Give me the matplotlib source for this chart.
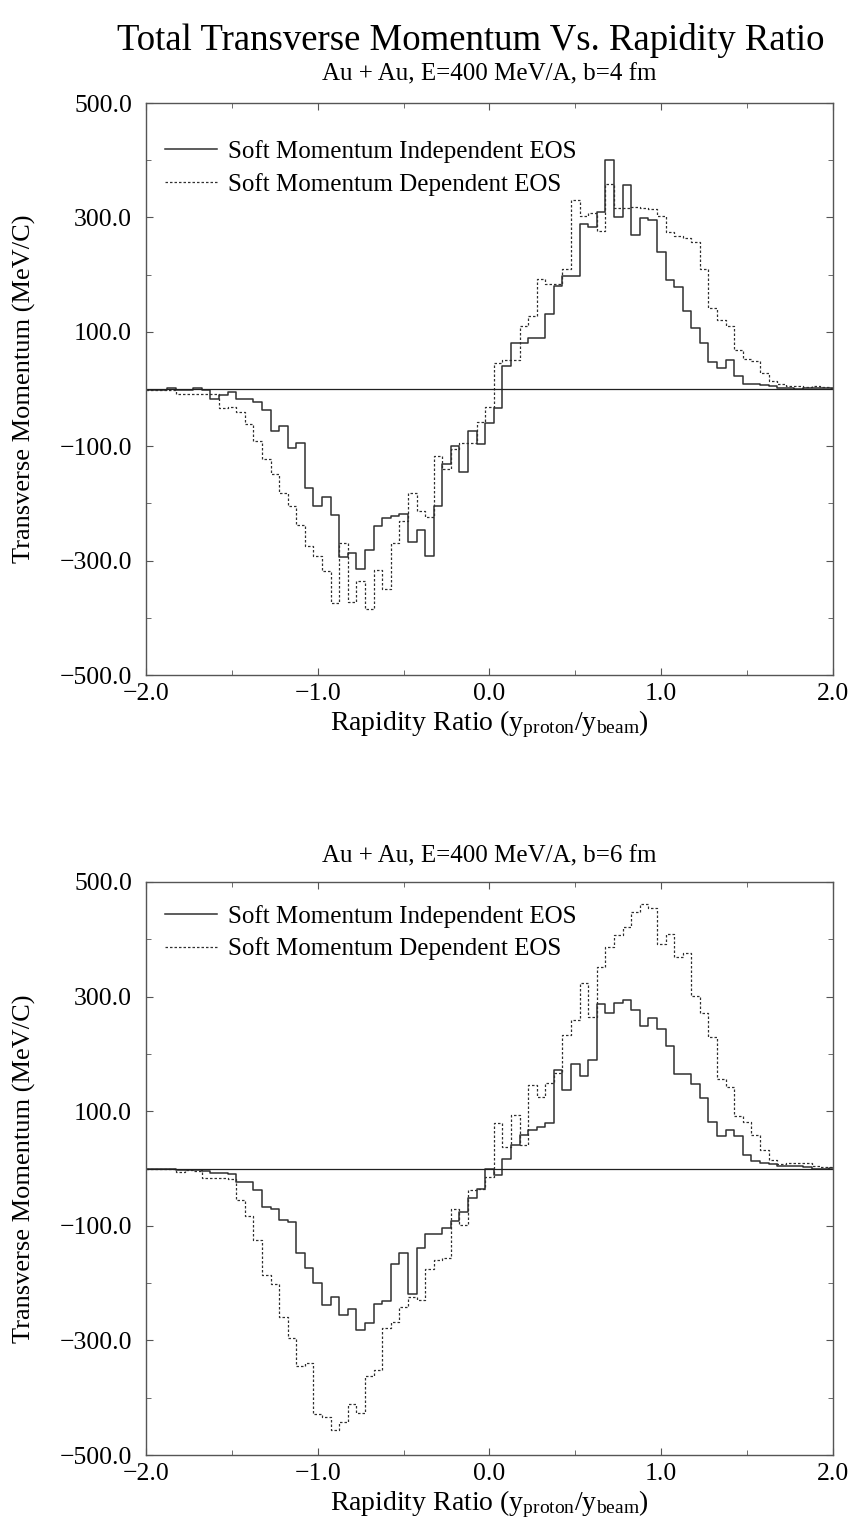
"""
Total transverse momentum vs rapidity ratio, Au + Au at 400 MeV/A.
Two step histograms per panel (b=4 fm, b=6 fm).
"""

import numpy as np
import matplotlib
matplotlib.use("Agg")
import matplotlib.pyplot as plt
from matplotlib.ticker import MultipleLocator, FixedLocator, FuncFormatter

plt.rcParams["font.family"] = ["Liberation Serif", "DejaVu Serif"]
plt.rcParams["mathtext.fontset"] = "custom"
plt.rcParams["mathtext.rm"] = "Liberation Serif"
plt.rcParams["mathtext.it"] = "Liberation Serif:italic"

# rapidity ratio bin centres, -2.0 ... 2.0 step 0.05
rapidity = np.round(np.arange(-2.0, 2.0001, 0.05), 2)

# b = 4 fm
pt_indep_b4 = [
    -1, -1, -1, 1, -2, -2, 1, -1, -18, -10,
    -5, -18, -18, -23, -36, -73, -65, -103, -95, -173,
    -205, -188, -221, -294, -286, -314, -281, -240, -225, -222,
    -218, -267, -246, -292, -205, -131, -100, -145, -74, -97,
    -60, -34, 40, 81, 81, 90, 90, 131, 180, 197,
    197, 288, 284, 309, 400, 301, 356, 270, 299, 296,
    240, 190, 179, 136, 106, 81, 47, 37, 50, 22,
    8, 8, 7, 5, 1, 1, 0, 1, 1, 2, 2,
]
pt_dep_b4 = [
    -1, -2, -2, -2, -8, -8, -8, -8, -8, -33,
    -32, -41, -62, -91, -122, -148, -182, -205, -237, -275,
    -292, -318, -374, -269, -373, -335, -385, -317, -350, -269,
    -230, -182, -214, -224, -117, -140, -105, -95, -95, -58,
    -32, 46, 50, 50, 110, 128, 193, 184, 184, 209,
    330, 302, 307, 276, 358, 317, 317, 318, 317, 315,
    303, 274, 267, 264, 257, 209, 142, 120, 110, 69,
    53, 49, 28, 14, 8, 6, 5, 4, 5, 3, 2,
]

# b = 6 fm
pt_indep_b6 = [
    -1, -1, -1, -1, -2, -3, -3, -4, -8, -7,
    -9, -24, -24, -38, -68, -71, -90, -93, -148, -173,
    -199, -238, -224, -256, -245, -282, -269, -237, -232, -166,
    -148, -219, -139, -115, -114, -103, -92, -76, -52, -35,
    0, -11, 16, 41, 59, 67, 73, 79, 172, 137,
    182, 162, 189, 287, 271, 288, 294, 277, 249, 262,
    244, 214, 165, 165, 147, 123, 82, 56, 67, 56,
    24, 13, 10, 8, 4, 4, 4, 3, 0, 0, 1,
]
pt_dep_b6 = [
    -1, -1, -1, -1, -6, -3, -4, -16, -16, -16,
    -18, -55, -83, -125, -186, -202, -260, -295, -344, -340,
    -428, -434, -456, -443, -411, -426, -363, -352, -279, -268,
    -242, -224, -230, -176, -160, -156, -70, -98, -38, -35,
    -14, 80, 38, 93, 41, 146, 124, 150, 166, 233,
    259, 323, 265, 352, 387, 408, 422, 448, 462, 454,
    392, 409, 369, 376, 301, 272, 229, 156, 143, 92,
    82, 59, 32, 14, 8, 10, 10, 10, 4, 2, 2,
]

series_labels = ["Soft Momentum Independent EOS", "Soft Momentum Dependent EOS"]
panel_titles = ["Au + Au, E=400 MeV/A, b=4 fm", "Au + Au, E=400 MeV/A, b=6 fm"]
y_labelled = [-500, -300, -100, 100, 300, 500]

W, H = 854, 1530
LINE = "#303030"
SPINE = "#555555"

fmt = FuncFormatter(lambda v, pos: f"{v:.1f}".replace("-", "\u2212"))


def draw_panel(ax, indep, dep, legend_y):
    ax.plot(rapidity, indep, drawstyle="steps-mid", color=LINE, lw=1.1,
            label=series_labels[0])
    ax.plot(rapidity, dep, drawstyle="steps-mid", color=LINE, lw=0.9,
            linestyle=(0, (2.0, 1.6)), label=series_labels[1])
    ax.axhline(0, color="#202020", lw=0.9)
    ax.set_xlim(-2.0, 2.0)
    ax.set_ylim(-500, 500)
    ax.xaxis.set_major_locator(MultipleLocator(1.0))
    ax.xaxis.set_minor_locator(MultipleLocator(0.5))
    ax.yaxis.set_major_locator(FixedLocator(y_labelled))
    ax.yaxis.set_minor_locator(MultipleLocator(100))
    ax.xaxis.set_major_formatter(fmt)
    ax.yaxis.set_major_formatter(fmt)
    ax.tick_params(which="both", direction="in", top=True, right=True,
                   color=SPINE, labelsize=18.5)
    ax.tick_params(axis="y", which="major", length=5, pad=10)
    ax.tick_params(axis="x", which="major", length=5, pad=6)
    ax.tick_params(which="minor", length=3.6)
    for s in ax.spines.values():
        s.set_color(SPINE)
        s.set_linewidth(1.0)
    ax.set_xlabel(r"Rapidity Ratio (y$_{\mathrm{proton}}$/y$_{\mathrm{beam}}$)",
                  fontsize=20, labelpad=2)
    ax.set_ylabel("Transverse Momentum (MeV/C)", fontsize=19, labelpad=17)
    ax.legend(loc="upper left", bbox_to_anchor=(0.027, legend_y), frameon=False,
              fontsize=18, handlelength=2.1, handletextpad=0.45,
              labelspacing=0.38, borderaxespad=0.0, borderpad=0.0)


fig = plt.figure(figsize=(W / 100, H / 100), dpi=100)
left, width = 146 / W, 687 / W
ax1 = fig.add_axes([left, 1 - 675 / H, width, 572 / H])
ax2 = fig.add_axes([left, 1 - 1455 / H, width, 573 / H])

draw_panel(ax1, pt_indep_b4, pt_dep_b4, 0.935)
draw_panel(ax2, pt_indep_b6, pt_dep_b6, 0.96)

fig.text(471 / W, 1 - 40 / H, "Total Transverse Momentum Vs. Rapidity Ratio",
         ha="center", va="center", fontsize=26.5)
fig.text(489 / W, 1 - 74 / H, panel_titles[0], ha="center", va="center", fontsize=18)
fig.text(489 / W, 1 - 856 / H, panel_titles[1], ha="center", va="center", fontsize=18)

fig.savefig("out.png", dpi=100)
plt.close(fig)
